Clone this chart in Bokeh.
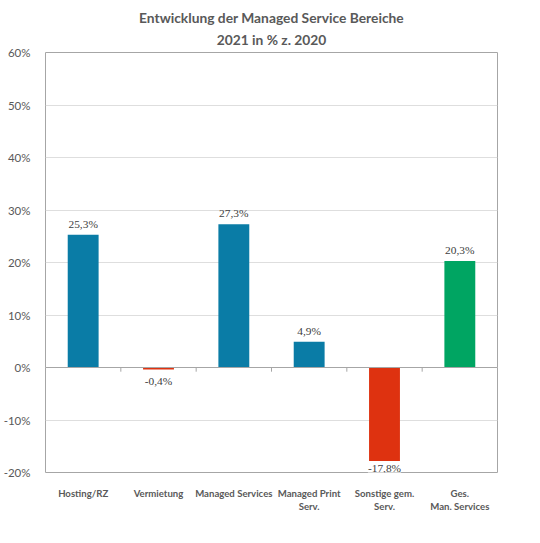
from bokeh.plotting import figure
from bokeh.models import (ColumnDataSource, Range1d, FixedTicker, LabelSet, Span,
                          PrintfTickFormatter, Title)
from bokeh.embed import file_html
from bokeh.resources import INLINE

title_lines = ["Entwicklung der Managed Service Bereiche", "2021 in % z. 2020"]
categories = ["Hosting/RZ", "Vermietung", "Managed Services", "Managed Print\nServ.",
              "Sonstige gem.\nServ.", "Ges.\nMan. Services"]
values = [25.3, -0.4, 27.3, 4.9, -17.8, 20.3]
y_ticks = [-20, -10, 0, 10, 20, 30, 40, 50, 60]

BLUE = "#0a7ca6"
RED = "#de3210"
GREEN = "#00a562"
bar_colors = [BLUE, RED, BLUE, BLUE, RED, GREEN]
FONT = "Lato"
GRAY = "#595959"

n = len(categories)
xs = [i + 0.5 for i in range(n)]
labels = [f"{v:.1f}".replace(".", ",") + "%" for v in values]

p = figure(width=524, height=527, output_backend="svg", toolbar_location=None,
           x_range=Range1d(0, n), y_range=Range1d(y_ticks[0], y_ticks[-1]),
           min_border_left=33, min_border_right=27, min_border_top=52, min_border_bottom=55)

# outer title line
p.title.text = title_lines[0]
p.title.align = "center"
p.title.offset = -10
p.title.text_font = FONT
p.title.text_font_size = "13.8px"
p.title.text_font_style = "bold"
p.title.text_color = GRAY
p.title.standoff = -4
# inner title line (closest to the plot)
p.add_layout(Title(text=title_lines[1], align="center", offset=-10, text_font=FONT,
                   text_font_size="13.8px", text_font_style="bold", text_color=GRAY,
                   standoff=10), "above")

p.outline_line_color = "#a6a6a6"
p.outline_line_width = 1
p.background_fill_color = "white"
p.border_fill_color = "white"

# grid
p.xgrid.grid_line_color = None
p.ygrid.grid_line_color = "#dedede"
p.ygrid.ticker = FixedTicker(ticks=y_ticks)

# y axis
p.yaxis.ticker = FixedTicker(ticks=y_ticks)
p.yaxis.formatter = PrintfTickFormatter(format="%d%%")
p.yaxis.axis_line_color = None
p.yaxis.major_tick_line_color = None
p.yaxis.minor_tick_line_color = None
p.yaxis.major_label_text_font = FONT
p.yaxis.major_label_text_font_size = "11.5px"
p.yaxis.major_label_text_color = GRAY
p.yaxis.major_label_standoff = 9

# x axis
p.xaxis.ticker = FixedTicker(ticks=xs)
p.xaxis.major_label_overrides = {x: c for x, c in zip(xs, categories)}
p.xaxis.axis_line_color = None
p.xaxis.major_tick_line_color = None
p.xaxis.minor_tick_line_color = None
p.xaxis.major_label_text_font = FONT
p.xaxis.major_label_text_font_size = "9.6px"
p.xaxis.major_label_text_font_style = "bold"
p.xaxis.major_label_text_color = GRAY
p.xaxis.major_label_text_line_height = 1.25
p.xaxis.major_label_standoff = 9

src = ColumnDataSource(dict(x=xs, top=values, color=bar_colors, label=labels))
p.vbar(x="x", top="top", bottom=0, width=0.41, fill_color="color", line_color=None, source=src)

# zero line and category boundary ticks
p.add_layout(Span(location=0, dimension="width", line_color="#a6a6a6", line_width=1))
bounds = list(range(1, n))
p.segment(x0=bounds, x1=bounds, y0=[0] * len(bounds), y1=[-0.8] * len(bounds),
          line_color="#a6a6a6", line_width=1)

pos = ColumnDataSource(dict(x=[x for x, v in zip(xs, values) if v >= 0],
                            y=[v for v in values if v >= 0],
                            t=[l for l, v in zip(labels, values) if v >= 0]))
neg_vals = [v for v in values if v < 0]
neg = ColumnDataSource(dict(x=[x for x, v in zip(xs, values) if v < 0],
                            y=neg_vals,
                            t=[l for l, v in zip(labels, values) if v < 0],
                            off=[-5 if v > -15 else -1 for v in neg_vals]))
p.add_layout(LabelSet(x="x", y="y", text="t", source=pos, text_align="center",
                      text_baseline="bottom", y_offset=5, text_font=FONT,
                      text_font_size="11.4px", text_color="#404040"))
p.add_layout(LabelSet(x="x", y="y", text="t", source=neg, text_align="center",
                      text_baseline="top", y_offset="off", text_font=FONT,
                      text_font_size="11.4px", text_color="#404040",
                      background_fill_color="white"))

open("out.html", "w").write(file_html(p, INLINE))
